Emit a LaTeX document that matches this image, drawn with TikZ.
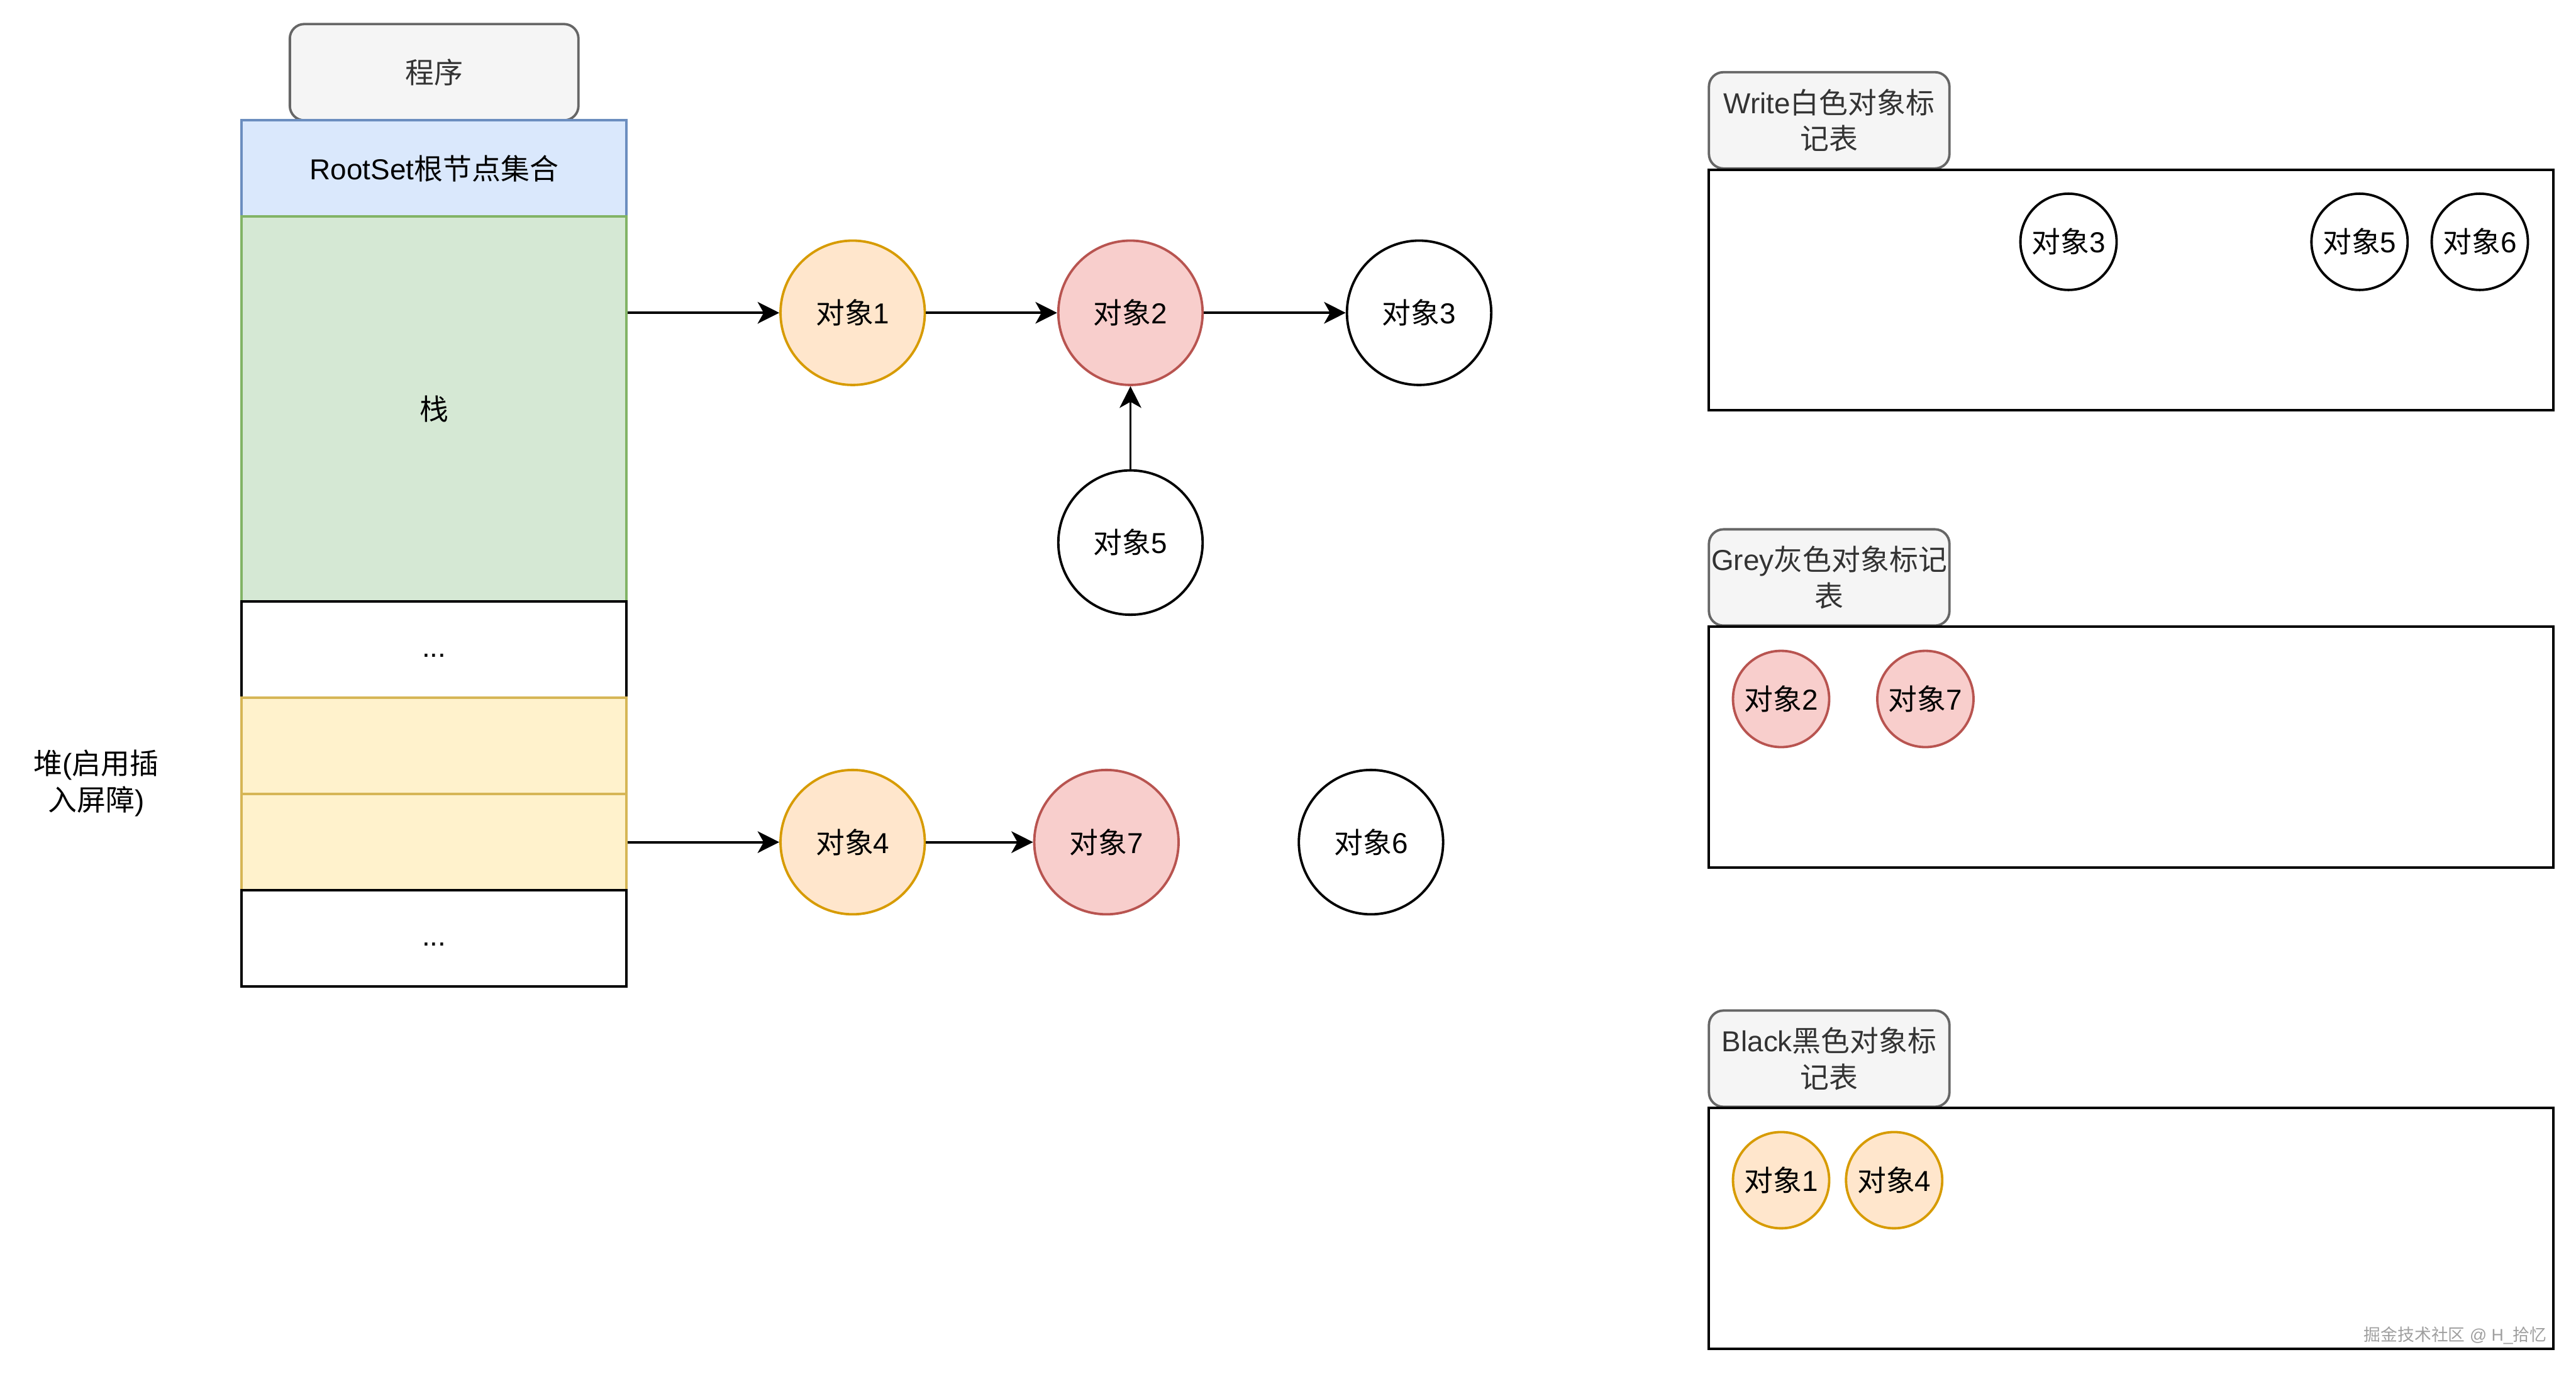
\documentclass[tikz,border=0pt]{standalone}
\usepackage{fontspec}
\setmainfont{Liberation Sans}
\newfontfamily\cjk{Noto Sans CJK SC}
\usetikzlibrary{arrows.meta}
\newcommand\zh[1]{{\cjk #1}}
\definecolor{lblfill}{HTML}{F5F5F5}
\definecolor{lblline}{HTML}{666666}
\definecolor{lbltext}{HTML}{333333}
\definecolor{rsfill}{HTML}{DAE8FC}
\definecolor{rsline}{HTML}{6C8EBF}
\definecolor{stfill}{HTML}{D5E8D4}
\definecolor{stline}{HTML}{82B366}
\definecolor{ylfill}{HTML}{FFF2CC}
\definecolor{ylline}{HTML}{D6B656}
\definecolor{orfill}{HTML}{FFE6CC}
\definecolor{orline}{HTML}{D79B00}
\definecolor{rdfill}{HTML}{F8CECC}
\definecolor{rdline}{HTML}{B85450}
\begin{document}
\begin{tikzpicture}[x=1pt,y=-1pt,
  every node/.style={font=\fontsize{12}{15}\selectfont},
  cell/.style={draw, rectangle, minimum width=160pt, inner sep=0pt, line width=1pt},
  obj/.style={circle, draw, minimum size=60pt, inner sep=0pt, line width=1pt},
  smallobj/.style={circle, draw, minimum size=40pt, inner sep=0pt, line width=1pt},
  objorange/.style={fill=orfill, draw=orline},
  objred/.style={fill=rdfill, draw=rdline},
  lbl/.style={draw=lblline, fill=lblfill, rounded corners=6pt, minimum width=100pt, minimum height=40pt, text=lbltext, align=center, inner sep=0pt, line width=1pt},
  tbl/.style={draw, rectangle, line width=1pt, minimum width=351pt, minimum height=100pt, inner sep=0pt},
  arr/.style={-{Stealth[length=9pt,width=9pt,inset=2.5pt]}, line width=1pt}]
\useasboundingbox (0,0) rectangle (1071,571);

% left stack
\node[lbl, minimum width=120pt] (prog) at (180.5,30) {\zh{程序}};
\node[cell, fill=rsfill, draw=rsline, minimum height=40pt] (root) at (180.5,70) {RootSet\zh{根节点集合}};
\node[cell, fill=stfill, draw=stline, minimum height=160pt] (stack) at (180.5,170) {\zh{栈}};
\node[cell, minimum height=40pt] (dotsa) at (180.5,270) {\strut...};
\node[cell, fill=ylfill, draw=ylline, minimum height=40pt] (heapa) at (180.5,310) {};
\node[cell, fill=ylfill, draw=ylline, minimum height=40pt] (heapb) at (180.5,350) {};
\node[cell, minimum height=40pt] (dotsb) at (180.5,390) {\strut...};
\node[align=center] (heaplbl) at (40,325.5) {\zh{堆}(\zh{启用插}\\\zh{入屏障})};

% object graph
\node[obj, objorange] (o1) at (354.5,130) {\zh{对象}1};
\node[obj, objred] (o2) at (470,130) {\zh{对象}2};
\node[obj] (o3) at (590,130) {\zh{对象}3};
\node[obj] (o5) at (470,225.5) {\zh{对象}5};
\node[obj, objorange] (o4) at (354.5,350) {\zh{对象}4};
\node[obj, objred] (o7) at (460,350) {\zh{对象}7};
\node[obj] (o6) at (570,350) {\zh{对象}6};

\draw[arr] (stack.east |- o1) -- (o1);
\draw[arr] (o1) -- (o2);
\draw[arr] (o2) -- (o3);
\draw[arr] (o5) -- (o2);
\draw[arr] (heapb) -- (o4);
\draw[arr] (o4) -- (o7);

% mark tables
\node[lbl] (wlbl) at (760.5,50) {Write\zh{白色对象标}\\\zh{记表}};
\node[tbl] (wtbl) at (886,120.5) {};
\node[smallobj] (w3) at (860,100.5) {\zh{对象}3};
\node[smallobj] (w5) at (981,100.5) {\zh{对象}5};
\node[smallobj] (w6) at (1031,100.5) {\zh{对象}6};

\node[lbl] (glbl) at (760.5,240) {Grey\zh{灰色对象标记}\\\zh{表}};
\node[tbl] (gtbl) at (886,310.5) {};
\node[smallobj, objred] (g2) at (740.5,290.5) {\zh{对象}2};
\node[smallobj, objred] (g7) at (800.5,290.5) {\zh{对象}7};

\node[lbl] (blbl) at (760.5,440) {Black\zh{黑色对象标}\\\zh{记表}};
\node[tbl] (btbl) at (886,510.5) {};
\node[smallobj, objorange] (b1) at (740.5,490.5) {\zh{对象}1};
\node[smallobj, objorange] (b4) at (787.5,490.5) {\zh{对象}4};

\node[anchor=east, inner sep=0pt, text=gray!75, font=\fontsize{7}{8}\selectfont] (wm) at (1059,555) {\zh{掘金技术社区} @ H\_\zh{拾忆}};
\end{tikzpicture}
\end{document}
